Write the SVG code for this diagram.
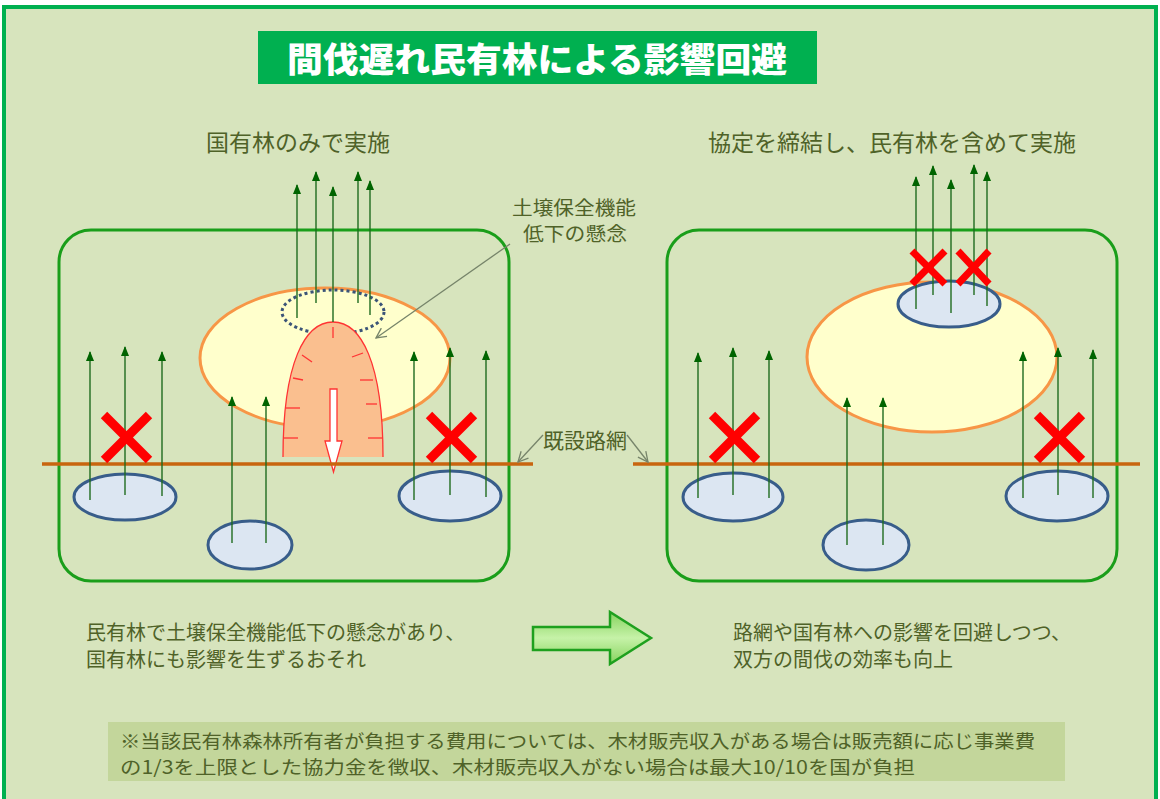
<svg xmlns="http://www.w3.org/2000/svg" width="1160" height="799" viewBox="0 0 1160 799">
<defs>
<style>
.t{font-family:"Noto Sans CJK JP","Noto Sans",sans-serif;fill:#4f6228}
.panel{fill:none;stroke:#1a9e1a;stroke-width:3}
.yel{fill:#ffffcc;stroke:#f79646;stroke-width:3}
.blu{fill:#dce6f2;stroke:#385d8a;stroke-width:3}
.up{stroke:#1f6b1f;stroke-width:1.4;fill:none;marker-end:url(#ah)}
.road{stroke:#c8650f;stroke-width:3.5}
.x{stroke:#ff0000;stroke-width:9;stroke-linecap:butt}
.xs{stroke:#ff0000;stroke-width:7}
.lead{stroke:#76846a;stroke-width:1.3;fill:none;marker-end:url(#oh)}
.tick{stroke:#ff3333;stroke-width:1.3}
</style>
<marker id="ah" markerUnits="userSpaceOnUse" markerWidth="10" markerHeight="8" refX="9" refY="4" orient="auto">
<path d="M0,0 L10,4 L0,8 Z" fill="#006400"/>
</marker>
<marker id="oh" markerUnits="userSpaceOnUse" markerWidth="12" markerHeight="12" refX="11" refY="6" orient="auto">
<path d="M1,1 L11,6 L1,11" fill="none" stroke="#76846a" stroke-width="1.3"/>
</marker>
<linearGradient id="gg" x1="0" y1="0" x2="0" y2="1">
<stop offset="0" stop-color="#86d35e"/>
<stop offset="0.5" stop-color="#c6f2a8"/>
<stop offset="1" stop-color="#86d35e"/>
</linearGradient>
</defs>
<rect x="0" y="0" width="1160" height="799" fill="#ffffff"/>
<path d="M4,799 L4,7 L1156,7 L1156,799 Z" fill="#d7e4bd"/>
<path d="M4,799 L4,7 L1156,7 L1156,799" fill="none" stroke="#00b050" stroke-width="4"/>

<g id="title">
<rect x="258" y="31" width="559" height="53" fill="#00b050"/>
<text x="537" y="72" text-anchor="middle" font-family="Noto Sans CJK JP, sans-serif" font-weight="900" font-size="34" fill="#ffffff" textLength="500" lengthAdjust="spacingAndGlyphs">間伐遅れ民有林による影響回避</text>
</g>
<g id="subtitle-left"><text class="t" x="298" y="151" text-anchor="middle" font-size="23">国有林のみで実施</text></g>
<g id="subtitle-right"><text class="t" x="892" y="151" text-anchor="middle" font-size="23">協定を締結し、民有林を含めて実施</text></g>

<g id="left-panel">
<rect class="panel" x="59" y="230" width="450" height="351" rx="32"/>
<ellipse class="yel" cx="325" cy="358" rx="125" ry="70"/>
<ellipse cx="333" cy="312" rx="51" ry="22" fill="none" stroke="#3b5478" stroke-width="3" stroke-dasharray="3 3"/>
<path d="M283,457 C283,362 305,322 333,322 C361,322 383,362 383,457 Z" fill="#fabf8f"/>
<path d="M283,457 C283,362 305,322 333,322 C361,322 383,362 383,457" fill="none" stroke="#ff3333" stroke-width="1.3"/>
<g class="tick">
<line x1="333" y1="327" x2="333" y2="338"/>
<line x1="302" y1="355" x2="312" y2="362"/>
<line x1="293" y1="378" x2="303" y2="380"/>
<line x1="286" y1="408" x2="300" y2="408"/>
<line x1="284" y1="438" x2="298" y2="438"/>
<line x1="352" y1="357" x2="363" y2="353"/>
<line x1="360" y1="380" x2="373" y2="380"/>
<line x1="366" y1="404" x2="377" y2="404"/>
<line x1="368" y1="438" x2="382" y2="438"/>
</g>
<path d="M330,389 L337,389 L337,441 L342,441 L333.5,472 L325,441 L330,441 Z" fill="#ffffff" stroke="#ff3333" stroke-width="1.3"/>
<ellipse class="blu" cx="125" cy="497" rx="51" ry="23"/>
<ellipse class="blu" cx="250" cy="545" rx="42" ry="24"/>
<ellipse class="blu" cx="450" cy="496" rx="51" ry="25"/>
</g>

<g id="right-panel">
<rect class="panel" x="667" y="230" width="450" height="351" rx="32"/>
<ellipse class="yel" cx="932" cy="357" rx="125" ry="75"/>
<ellipse class="blu" cx="949" cy="304" rx="51" ry="23"/>
<ellipse class="blu" cx="733" cy="497" rx="50" ry="24"/>
<ellipse class="blu" cx="866" cy="545" rx="43" ry="25"/>
<ellipse class="blu" cx="1057" cy="496" rx="51" ry="25"/>
</g>

<g id="roads">
<line class="road" x1="42" y1="464" x2="533" y2="464"/>
<line class="road" x1="633" y1="464" x2="1140" y2="464"/>
</g>

<g id="connectors">
<line class="up" x1="297" y1="318" x2="297" y2="185"/>
<line class="up" x1="316" y1="303" x2="316" y2="172"/>
<line class="up" x1="333" y1="322" x2="333" y2="187"/>
<line class="up" x1="358" y1="303" x2="358" y2="172"/>
<line class="up" x1="370" y1="315" x2="370" y2="181"/>
<line class="up" x1="90" y1="500" x2="90" y2="352"/>
<line class="up" x1="125" y1="495" x2="125" y2="347"/>
<line class="up" x1="162" y1="496" x2="162" y2="352"/>
<line class="up" x1="232" y1="543" x2="232" y2="397"/>
<line class="up" x1="266" y1="543" x2="266" y2="397"/>
<line class="up" x1="414" y1="500" x2="414" y2="352"/>
<line class="up" x1="450" y1="495" x2="450" y2="348"/>
<line class="up" x1="486" y1="497" x2="486" y2="351"/>

<line class="up" x1="916" y1="309" x2="916" y2="177"/>
<line class="up" x1="933" y1="295" x2="933" y2="166"/>
<line class="up" x1="951" y1="313" x2="951" y2="180"/>
<line class="up" x1="974" y1="295" x2="974" y2="165"/>
<line class="up" x1="987" y1="306" x2="987" y2="172"/>
<line class="up" x1="698" y1="498" x2="698" y2="353"/>
<line class="up" x1="733" y1="495" x2="733" y2="348"/>
<line class="up" x1="769" y1="498" x2="769" y2="351"/>
<line class="up" x1="847" y1="545" x2="847" y2="398"/>
<line class="up" x1="883" y1="545" x2="883" y2="398"/>
<line class="up" x1="1023" y1="498" x2="1023" y2="352"/>
<line class="up" x1="1058" y1="495" x2="1058" y2="348"/>
<line class="up" x1="1093" y1="498" x2="1093" y2="350"/>

<line class="lead" x1="510" y1="244" x2="376" y2="338"/>
<line class="lead" x1="543" y1="435" x2="518" y2="462"/>
<line class="lead" x1="627" y1="435" x2="648" y2="462"/>
</g>

<g id="x-marks">
<line class="x" x1="104" y1="415" x2="149" y2="460"/>
<line class="x" x1="149" y1="415" x2="104" y2="460"/>
<line class="x" x1="429" y1="415" x2="474" y2="460"/>
<line class="x" x1="474" y1="415" x2="429" y2="460"/>
<line class="x" x1="712" y1="415" x2="757" y2="460"/>
<line class="x" x1="757" y1="415" x2="712" y2="460"/>
<line class="x" x1="1037" y1="415" x2="1082" y2="460"/>
<line class="x" x1="1082" y1="415" x2="1037" y2="460"/>
<line class="xs" x1="912" y1="251" x2="945" y2="284"/>
<line class="xs" x1="945" y1="251" x2="912" y2="284"/>
<line class="xs" x1="958" y1="251" x2="989" y2="284"/>
<line class="xs" x1="989" y1="251" x2="958" y2="284"/>
</g>

<g id="label-soil">
<text class="t" x="574" y="215" text-anchor="middle" font-size="19" textLength="124" lengthAdjust="spacingAndGlyphs">土壌保全機能</text>
<text class="t" x="575" y="241" text-anchor="middle" font-size="19" textLength="104" lengthAdjust="spacingAndGlyphs">低下の懸念</text>
</g>
<g id="label-road"><text class="t" x="585" y="448" text-anchor="middle" font-size="21">既設路網</text></g>

<g id="text-left">
<text class="t" x="86" y="640" font-size="20">民有林で土壌保全機能低下の懸念があり、</text>
<text class="t" x="86" y="667" font-size="20">国有林にも影響を生ずるおそれ</text>
</g>
<g id="big-arrow">
<path d="M533,627 L610,627 L610,612 L651,638 L610,664 L610,650 L533,650 Z" fill="url(#gg)" stroke="#1ea01e" stroke-width="2.5"/>
</g>
<g id="text-right">
<text class="t" x="733" y="640" font-size="20">路網や国有林への影響を回避しつつ、</text>
<text class="t" x="733" y="667" font-size="20">双方の間伐の効率も向上</text>
</g>

<g id="note">
<rect x="108" y="722" width="957" height="59" fill="#c3d69b"/>
<text class="t" x="120" y="748" font-size="18.5" textLength="915" lengthAdjust="spacingAndGlyphs">※当該民有林森林所有者が負担する費用については、木材販売収入がある場合は販売額に応じ事業費</text>
<text class="t" x="120" y="774" font-size="18.5" textLength="795" lengthAdjust="spacingAndGlyphs">の1/3を上限とした協力金を徴収、木材販売収入がない場合は最大10/10を国が負担</text>
</g>
</svg>
